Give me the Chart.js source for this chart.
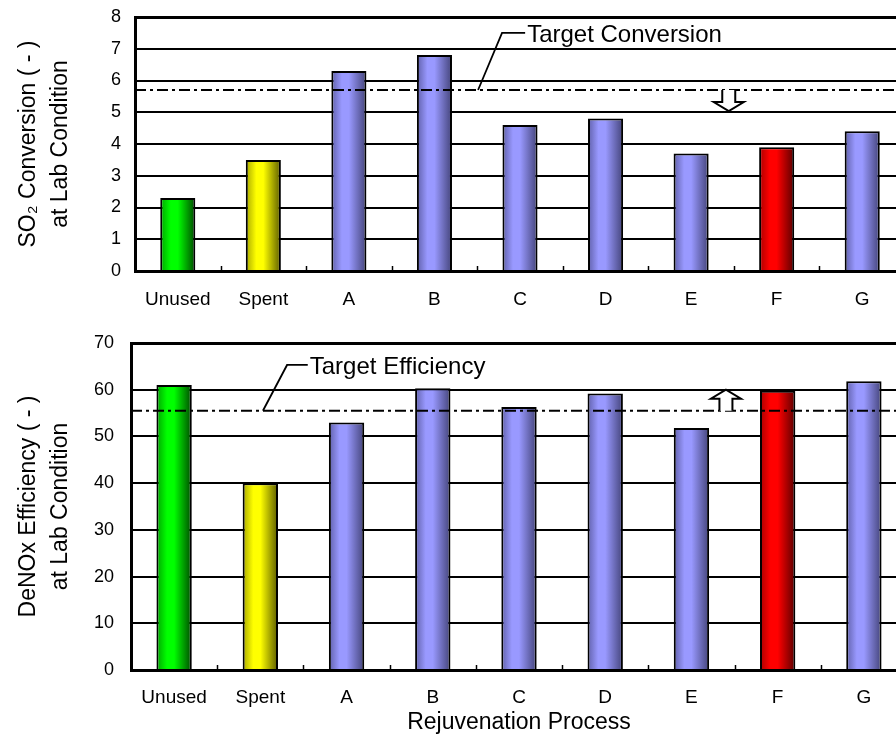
<!DOCTYPE html>
<html>
<head>
<meta charset="utf-8">
<script src="https://cdn.jsdelivr.net/npm/chart.js@4.4.1/dist/chart.umd.min.js"></script>
<style>
  html, body { margin: 0; padding: 0; background: #fff; overflow: hidden; width: 896px; height: 736px; }
  canvas { position: absolute; left: 0; }
  #so2 { top: 0; }
  #denox { top: 320px; }
</style>
</head>
<body>
<canvas id="so2" width="920" height="320"></canvas>
<canvas id="denox" width="920" height="416"></canvas>
<script>
// Catalyst samples and the measured performance of each
const processes = ['Unused', 'Spent', 'A', 'B', 'C', 'D', 'E', 'F', 'G'];
const so2Conversion = [2.3, 3.5, 6.3, 6.8, 4.6, 4.8, 3.7, 3.9, 4.4];
const denoxEfficiency = [61.0, 40.0, 53.0, 60.3, 56.3, 59.2, 51.8, 59.8, 61.8];
const so2Ticks = [0, 1, 2, 3, 4, 5, 6, 7, 8];
const denoxTicks = [0, 10, 20, 30, 40, 50, 60, 70];
const so2Target = 5.7;
const denoxTarget = 55.5;

const FONT = '"Liberation Sans", Arial, Helvetica, sans-serif';

// Cylinder shading: [left edge, highlight, right edge]
const tones = {
  green:  ['#00a400', '#00ff00', '#004a00'],
  yellow: ['#a8a800', '#ffff00', '#5c5c00'],
  blue:   ['#6060aa', '#9999ff', '#44447a'],
  red:    ['#a80000', '#ff0000', '#5a0000']
};
const toneOf = name => name === 'Unused' ? 'green' : name === 'Spent' ? 'yellow' : name === 'F' ? 'red' : 'blue';

const cylinderShade = {
  id: 'cylinderShade',
  beforeDatasetsDraw(chart) {
    const ctx = chart.ctx;
    chart.getDatasetMeta(0).data.forEach((bar, i) => {
      const { x, width } = bar.getProps(['x', 'width'], true);
      const [l, m, r] = tones[toneOf(chart.data.labels[i])];
      const g = ctx.createLinearGradient(x - width / 2, 0, x + width / 2, 0);
      g.addColorStop(0, l);
      g.addColorStop(0.3, m);
      g.addColorStop(0.5, m);
      g.addColorStop(1, r);
      bar.options = Object.assign({}, bar.options, { backgroundColor: g });
    });
  }
};

// Small category separators standing on the category axis
const categoryMarks = {
  id: 'categoryMarks',
  afterDraw(chart) {
    const { ctx, scales: { x } } = chart;
    const n = chart.data.labels.length;
    ctx.save();
    ctx.strokeStyle = '#000';
    ctx.lineWidth = 1.5;
    for (let i = 1; i < n; i++) {
      const px = Math.round(x.left + (x.right - x.left) * i / n) + 0.5;
      ctx.beginPath();
      ctx.moveTo(px, x.top);
      ctx.lineTo(px, x.top - 5);
      ctx.stroke();
    }
    ctx.restore();
  }
};

// Dash-dot target line with its callout and a hollow arrow
const targetMarker = {
  id: 'targetMarker',
  afterDatasetsDraw(chart, args, opts) {
    const { ctx, chartArea: { left, right }, scales: { x, y } } = chart;
    const n = chart.data.labels.length;
    const ux = u => x.left + (x.right - x.left) * u / n;
    const ty = y.getPixelForValue(opts.value);
    ctx.save();
    ctx.strokeStyle = '#000';
    ctx.lineWidth = 2;
    ctx.setLineDash([11, 4, 3, 4]);
    ctx.beginPath();
    ctx.moveTo(left, ty);
    ctx.lineTo(right, ty);
    ctx.stroke();
    ctx.setLineDash([]);

    const ly = y.getPixelForValue(opts.labelAt);
    ctx.lineWidth = 1.8;
    ctx.beginPath();
    ctx.moveTo(ux(opts.leader[0]), ty);
    ctx.lineTo(ux(opts.leader[1]), ly);
    ctx.lineTo(ux(opts.leader[2]), ly);
    ctx.stroke();
    ctx.font = '24px ' + FONT;
    ctx.fillStyle = '#000';
    ctx.textAlign = 'left';
    ctx.textBaseline = 'middle';
    ctx.fillText(opts.text, ux(opts.leader[2]) + 2, ly + 2);

    const ax = ux(opts.arrowAt), d = opts.arrowDir;
    const len = 21, head = 9, sw = 6.5, hw = 15;
    const neck = ty + d * (len - head), tip = ty + d * len;
    ctx.beginPath();
    ctx.moveTo(ax - sw, ty);
    ctx.lineTo(ax - sw, neck);
    ctx.lineTo(ax - hw, neck);
    ctx.lineTo(ax, tip);
    ctx.lineTo(ax + hw, neck);
    ctx.lineTo(ax + sw, neck);
    ctx.lineTo(ax + sw, ty);
    ctx.fillStyle = '#fff';
    ctx.fill();
    ctx.lineWidth = 2;
    ctx.stroke();
    ctx.restore();
  }
};

function panel(id, values, ticks, yTitle, marker, frame, xTitle) {
  const last = ticks.length - 1;
  return new Chart(document.getElementById(id), {
    type: 'bar',
    data: {
      labels: processes,
      datasets: [{
        data: values,
        backgroundColor: c => tones[toneOf(processes[c.dataIndex])][1],
        borderColor: '#000',
        borderWidth: 2,
        categoryPercentage: 1,
        barPercentage: 0.41
      }]
    },
    options: {
      responsive: false,
      animation: false,
      events: [],
      layout: { padding: { left: 0, top: frame.top, right: frame.right, bottom: 0 } },
      plugins: {
        legend: { display: false },
        tooltip: { enabled: false },
        targetMarker: marker
      },
      scales: {
        x: {
          grid: { display: false, drawTicks: false },
          border: { display: true, color: '#000', width: 3 },
          ticks: { color: '#000', font: { family: FONT, size: 19 }, padding: frame.xPad, maxRotation: 0, autoSkip: false },
          title: xTitle ? { display: true, text: xTitle, color: '#000', font: { family: FONT, size: 23 }, padding: { top: 0, bottom: 0 } } : { display: false },
          afterFit: s => { s.height = frame.xHeight; s.paddingLeft = 0; s.paddingRight = 0; }
        },
        y: {
          min: ticks[0],
          max: ticks[last],
          grid: {
            color: '#000',
            lineWidth: c => c.index === last ? 3 : 1.9,
            drawTicks: false
          },
          border: { display: true, color: '#000', width: 3 },
          ticks: { color: '#000', font: { family: FONT, size: 18 }, padding: frame.yPad, stepSize: ticks[1] - ticks[0] },
          title: { display: true, text: yTitle, color: '#000', font: { family: FONT, size: 23, lineHeight: 1.39 }, padding: { top: 13, bottom: 0 } },
          afterFit: s => { s.width = frame.left; s.paddingTop = 0; s.paddingBottom = 0; }
        }
      }
    },
    plugins: [cylinderShade, categoryMarks, targetMarker]
  });
}

panel('so2', so2Conversion, so2Ticks,
  ['SO\u2082 Conversion ( - )', 'at Lab Condition'],
  { value: so2Target, labelAt: 7.5, leader: [4.01, 4.29, 4.56], text: 'Target Conversion', arrowAt: 6.94, arrowDir: 1 },
  { left: 135, top: 17, right: 15, xHeight: 49, xPad: 17, yPad: 14 });

panel('denox', denoxEfficiency, denoxTicks,
  ['DeNOx Efficiency ( - )', 'at Lab Condition'],
  { value: denoxTarget, labelAt: 65.3, leader: [1.53, 1.81, 2.05], text: 'Target Efficiency', arrowAt: 6.9, arrowDir: -1 },
  { left: 131, top: 23, right: 13, xHeight: 66, xPad: 16, yPad: 17 },
  'Rejuvenation Process');
</script>
</body>
</html>
